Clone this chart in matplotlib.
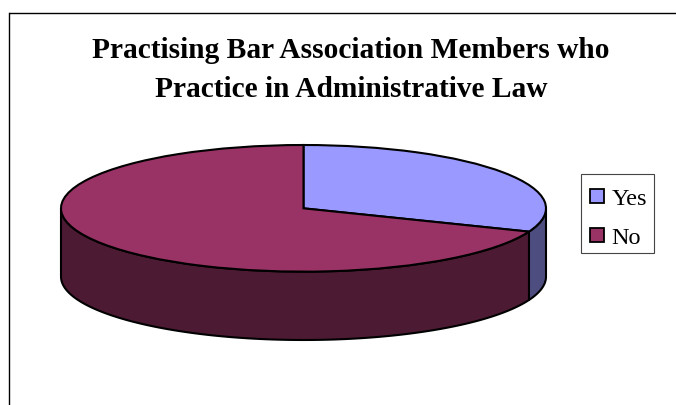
import numpy as np
import matplotlib
matplotlib.use("Agg")
import matplotlib.pyplot as plt
from matplotlib.patches import Rectangle

W, H = 676, 406

title_lines = ["Practising Bar Association Members who", "Practice in Administrative Law"]
labels = ["Yes", "No"]
values = [31, 69]
top_colors = ["#9999FF", "#993366"]
side_colors = ["#4D4D80", "#4D1A33"]

# thickness of the pie, in units of the top ellipse's vertical radius
DEPTH = 68 / 63


def px_axes(fig, left, top, right, bottom):
    return fig.add_axes([left / W, 1 - bottom / H, (right - left) / W, (bottom - top) / H])


def side_wall(ax, a0, a1, color):
    # visible outer wall between two angles (degrees) on the front of the ellipse
    t = np.radians(np.linspace(a0, a1, 120))
    x = np.cos(t)
    y = np.sin(t)
    xs = np.concatenate([x, x[::-1]])
    ys = np.concatenate([y, y[::-1] - DEPTH])
    ax.fill(xs, ys, facecolor=color, edgecolor="black", linewidth=1.5, joinstyle="round", zorder=1)


def main():
    plt.rcParams["font.family"] = ["Liberation Serif", "DejaVu Serif"]
    fig = plt.figure(figsize=(W / 100, H / 100), dpi=100, facecolor="white")

    # full-figure pixel overlay for the frame, title and legend
    bg = fig.add_axes([0, 0, 1, 1])
    bg.set_xlim(0, W)
    bg.set_ylim(H, 0)
    bg.axis("off")
    bg.plot([9.3, 9.3], [H, 13.5], color="black", lw=1.0, solid_capstyle="projecting")
    bg.plot([9.3, 676], [13.5, 13.5], color="black", lw=1.0, solid_capstyle="butt")

    bg.text(351, 58, title_lines[0], ha="center", va="baseline", fontsize=21.2, fontweight="bold")
    bg.text(351, 97, title_lines[1], ha="center", va="baseline", fontsize=21.2, fontweight="bold")

    bg.add_patch(Rectangle((580.7, 175.2), 73, 78.5, facecolor="white", edgecolor="#444444", lw=0.8))
    for i, (lab, col) in enumerate(zip(labels, top_colors)):
        y = 197 + 39 * i
        bg.add_patch(Rectangle((589.5, y - 7.2), 14.4, 14.4, facecolor=col, edgecolor="black", lw=1.3))
        bg.text(611.5, y + 8, lab, ha="left", va="baseline", fontsize=17.5)

    ax = px_axes(fig, 61, 146, 546, 341)
    ax.patch.set_alpha(0)
    split = 90 - 360 * values[0] / sum(values)
    side_wall(ax, 0, split, side_colors[0])
    side_wall(ax, split, -180, side_colors[1])
    ax.pie(values, colors=top_colors, startangle=90, counterclock=False,
           wedgeprops={"edgecolor": "black", "linewidth": 1.5, "zorder": 2})
    ax.set_aspect("auto")
    ax.set_xlim(-1, 1)
    ax.set_ylim(-1 - DEPTH, 1)
    for c in ax.get_children():
        c.set_clip_on(False)

    fig.savefig("out.png", dpi=100)


if __name__ == "__main__":
    main()
